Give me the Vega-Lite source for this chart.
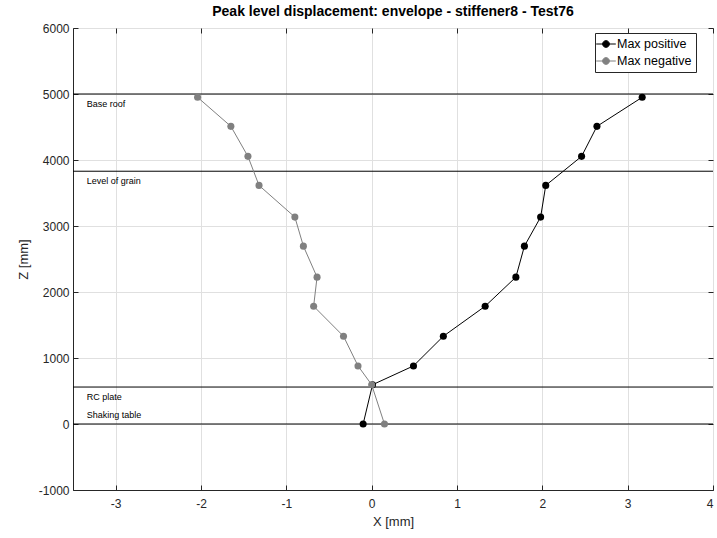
{
  "$schema": "https://vega.github.io/schema/vega-lite/v6.json",
  "autosize": "none",
  "width": 640,
  "height": 462,
  "padding": {"left": 73, "top": 28, "right": 4, "bottom": 48},
  "background": "white",
  "title": {"text": "Peak level displacement: envelope - stiffener8 - Test76", "font": "Liberation Sans", "fontSize": 14, "fontWeight": "bold", "color": "#000000", "offset": 3},
  "config": {
    "view": {"stroke": "#262626", "strokeWidth": 1},
    "axis": {"labelFont": "Liberation Sans", "titleFont": "Liberation Sans", "labelFontSize": 12, "titleFontSize": 13, "titleFontWeight": "normal", "labelColor": "#262626", "titleColor": "#262626", "domainColor": "#262626", "tickColor": "#262626", "gridColor": "#e0e0e0", "tickSize": -5, "labelPadding": 9}
  },
  "resolve": {"axis": {"x": "independent", "y": "independent"}},
  "datasets": {
    "pts": [
      {"series": "Max positive", "x": -0.1, "z": 0},
      {"series": "Max positive", "x": 0.01, "z": 595},
      {"series": "Max positive", "x": 0.49, "z": 880},
      {"series": "Max positive", "x": 0.84, "z": 1330},
      {"series": "Max positive", "x": 1.33, "z": 1785},
      {"series": "Max positive", "x": 1.69, "z": 2225},
      {"series": "Max positive", "x": 1.79, "z": 2695},
      {"series": "Max positive", "x": 1.98, "z": 3135},
      {"series": "Max positive", "x": 2.04, "z": 3615},
      {"series": "Max positive", "x": 2.46, "z": 4055},
      {"series": "Max positive", "x": 2.64, "z": 4510},
      {"series": "Max positive", "x": 3.17, "z": 4950},
      {"series": "Max negative", "x": 0.15, "z": 0},
      {"series": "Max negative", "x": 0.0, "z": 595},
      {"series": "Max negative", "x": -0.16, "z": 880},
      {"series": "Max negative", "x": -0.33, "z": 1330},
      {"series": "Max negative", "x": -0.68, "z": 1785},
      {"series": "Max negative", "x": -0.64, "z": 2225},
      {"series": "Max negative", "x": -0.8, "z": 2695},
      {"series": "Max negative", "x": -0.9, "z": 3135},
      {"series": "Max negative", "x": -1.32, "z": 3615},
      {"series": "Max negative", "x": -1.45, "z": 4055},
      {"series": "Max negative", "x": -1.65, "z": 4510},
      {"series": "Max negative", "x": -2.04, "z": 4950}
    ],
    "levels": [
      {"name": "Base roof", "z": 5000, "below": true, "lx": -3.34},
      {"name": "Level of grain", "z": 3830, "below": true, "lx": -3.34},
      {"name": "RC plate", "z": 560, "below": true, "lx": -3.34},
      {"name": "Shaking table", "z": 0, "below": false, "lx": -3.34}
    ]
  },
  "layer": [
    {
      "data": {"name": "pts"},
      "mark": {"type": "point", "opacity": 0},
      "encoding": {
        "x": {"field": "x", "type": "quantitative", "scale": {"domain": [-3.5, 4], "nice": false, "zero": false},
              "axis": {"orient": "top", "title": null, "labels": false, "grid": false, "domain": false, "values": [-3, -2, -1, 0, 1, 2, 3, 4]}},
        "y": {"field": "z", "type": "quantitative", "scale": {"domain": [-1000, 6000], "nice": false},
              "axis": {"orient": "right", "title": null, "labels": false, "grid": false, "domain": false, "values": [-1000, 0, 1000, 2000, 3000, 4000, 5000, 6000]}}
      }
    },
    {
      "data": {"name": "levels"},
      "mark": {"type": "rule", "color": "#000000", "strokeWidth": 1},
      "encoding": {
        "y": {"field": "z", "type": "quantitative", "axis": null}
      }
    },
    {
      "data": {"name": "levels"},
      "transform": [{"filter": "datum.below"}],
      "mark": {"type": "text", "align": "left", "baseline": "middle", "dy": 10, "font": "Liberation Sans", "fontSize": 9, "color": "#000000"},
      "encoding": {
        "x": {"field": "lx", "type": "quantitative", "axis": null},
        "y": {"field": "z", "type": "quantitative", "axis": null},
        "text": {"field": "name"}
      }
    },
    {
      "data": {"name": "levels"},
      "transform": [{"filter": "!datum.below"}],
      "mark": {"type": "text", "align": "left", "baseline": "middle", "dy": -9, "font": "Liberation Sans", "fontSize": 9, "color": "#000000"},
      "encoding": {
        "x": {"field": "lx", "type": "quantitative", "axis": null},
        "y": {"field": "z", "type": "quantitative", "axis": null},
        "text": {"field": "name"}
      }
    },
    {
      "data": {"name": "pts"},
      "mark": {"type": "line", "strokeWidth": 1},
      "encoding": {
        "x": {"field": "x", "type": "quantitative",
              "axis": {"orient": "bottom", "title": "X [mm]", "values": [-3, -2, -1, 0, 1, 2, 3, 4], "labelExpr": "'' + datum.value", "grid": true, "labelPadding": 13, "titlePadding": 6}},
        "y": {"field": "z", "type": "quantitative",
              "axis": {"orient": "left", "title": "Z [mm]", "values": [-1000, 0, 1000, 2000, 3000, 4000, 5000, 6000], "labelExpr": "'' + datum.value", "grid": true, "titlePadding": 8}},
        "order": {"field": "z", "type": "quantitative"},
        "color": {"field": "series", "type": "nominal",
                  "scale": {"domain": ["Max positive", "Max negative"], "range": ["#000000", "#808080"]},
                  "legend": {"title": null, "orient": "none", "legendX": 522, "legendY": 5, "labelFont": "Liberation Sans", "labelFontSize": 12.5, "labelColor": "#000000",
                             "strokeColor": "#262626", "fillColor": "white", "padding": 4, "cornerRadius": 0, "rowPadding": 3, "symbolSize": 150,
                             "symbolType": "M-1.6,0L1.6,0M-0.55,0A0.55,0.55 0 1,0 0.55,0A0.55,0.55 0 1,0 -0.55,0Z", "symbolStrokeWidth": 1, "labelOffset": 4,
                             "encode": {"symbols": {"update": {"stroke": {"scale": "color", "field": "value"}, "fill": {"scale": "color", "field": "value"}, "strokeWidth": {"value": 1}, "opacity": {"value": 1}}}}}}
      }
    },
    {
      "data": {"name": "pts"},
      "mark": {"type": "point", "filled": true, "size": 50, "opacity": 1},
      "encoding": {
        "x": {"field": "x", "type": "quantitative", "axis": null},
        "y": {"field": "z", "type": "quantitative", "axis": null},
        "color": {"field": "series", "type": "nominal"}
      }
    }
  ]
}
